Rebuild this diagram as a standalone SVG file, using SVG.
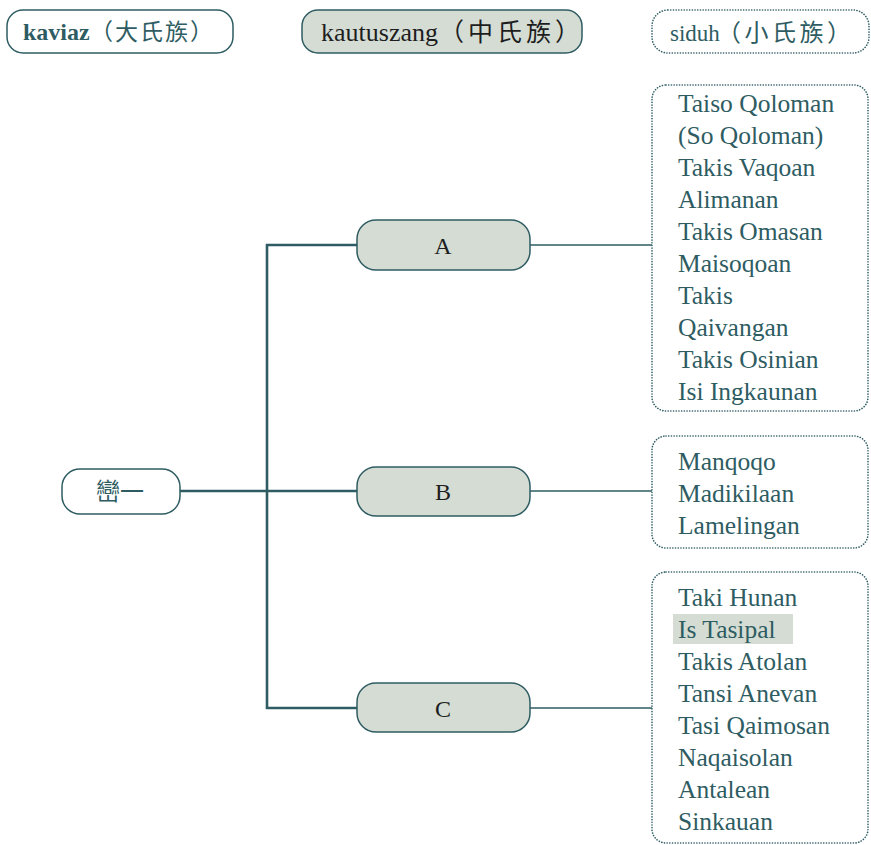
<svg xmlns="http://www.w3.org/2000/svg" width="871" height="845" viewBox="0 0 871 845">
<style>
.t{font-family:"Liberation Serif","Noto Sans CJK TC",serif;fill:#2e5c62;font-size:24px}
.cjk{font-family:"Noto Sans CJK TC","Liberation Serif",serif}
.k{fill:#1e1e1e}
.solid{fill:#fff;stroke:#2e5c62;stroke-width:1.5}
.grey{fill:#d4dcd4;stroke:#2e5c62;stroke-width:1.5}
.dot{fill:#fff;stroke:#2e5c62;stroke-width:1.6;stroke-dasharray:0.1 2.6;stroke-linecap:round}
.list{font-size:25.5px}
.thick{stroke:#2e5c62;stroke-width:2.6;fill:none}
.thin{stroke:#2e5c62;stroke-width:1.4;fill:none}
</style>
<rect width="871" height="845" fill="#fff"/>
<g id="connectors">
<line class="thick" x1="176" y1="491" x2="357" y2="491"/>
<line class="thick" x1="267" y1="244" x2="267" y2="709"/>
<line class="thick" x1="266" y1="245" x2="357" y2="245"/>
<line class="thick" x1="266" y1="708" x2="357" y2="708"/>
<line class="thin" x1="530" y1="245" x2="652" y2="245"/>
<line class="thin" x1="530" y1="491" x2="652" y2="491"/>
<line class="thin" x1="530" y1="708" x2="652" y2="708"/>
</g>
<g id="header-kaviaz">
<rect class="solid" x="7" y="10" width="226" height="43" rx="16"/>
<text class="t" y="40"><tspan x="23" font-weight="bold">kaviaz</tspan><tspan class="cjk" x="90" font-size="23" letter-spacing="2">（大氏族）</tspan></text>
</g>
<g id="header-kautuszang">
<rect class="grey" x="302" y="10" width="280" height="43" rx="16"/>
<text class="t k" y="41"><tspan x="321" font-size="26">kautuszang</tspan><tspan class="cjk" x="439" font-size="25" letter-spacing="4">（中氏族）</tspan></text>
</g>
<g id="header-siduh">
<rect class="dot" x="652" y="10" width="217" height="43" rx="16"/>
<text class="t" y="41"><tspan x="670" font-size="23">siduh</tspan><tspan class="cjk" x="717" font-size="24" letter-spacing="3.5">（小氏族）</tspan></text>
</g>
<g id="root">
<rect class="solid" x="62" y="469" width="118" height="45" rx="18"/>
<text class="t cjk" x="120" y="500" text-anchor="middle" font-size="26">巒一</text>
</g>
<g id="nodeA">
<rect class="grey" x="357" y="220" width="173" height="50" rx="19"/>
<text class="t k" x="443" y="254" text-anchor="middle" font-size="25">A</text>
</g>
<g id="nodeB">
<rect class="grey" x="357" y="467" width="173" height="49" rx="19"/>
<text class="t k" x="443" y="500" text-anchor="middle" font-size="25">B</text>
</g>
<g id="nodeC">
<rect class="grey" x="357" y="683" width="173" height="49" rx="19"/>
<text class="t k" x="443" y="717" text-anchor="middle" font-size="25">C</text>
</g>
<g id="listA">
<rect class="dot" x="652" y="85" width="216" height="326" rx="14"/>
<text class="t list">
<tspan x="678" y="112">Taiso Qoloman</tspan>
<tspan x="678" y="144">(So Qoloman)</tspan>
<tspan x="678" y="176">Takis Vaqoan</tspan>
<tspan x="678" y="208">Alimanan</tspan>
<tspan x="678" y="240">Takis Omasan</tspan>
<tspan x="678" y="272">Maisoqoan</tspan>
<tspan x="678" y="304">Takis</tspan>
<tspan x="678" y="336">Qaivangan</tspan>
<tspan x="678" y="368">Takis Osinian</tspan>
<tspan x="678" y="400">Isi Ingkaunan</tspan>
</text>
</g>
<g id="listB">
<rect class="dot" x="652" y="436" width="216" height="112" rx="14"/>
<text class="t list">
<tspan x="678" y="470">Manqoqo</tspan>
<tspan x="678" y="502">Madikilaan</tspan>
<tspan x="678" y="534">Lamelingan</tspan>
</text>
</g>
<g id="listC">
<rect class="dot" x="652" y="572" width="216" height="271" rx="14"/>
<rect x="673" y="614" width="120" height="30" fill="#d4dcd4"/>
<text class="t list">
<tspan x="678" y="606">Taki Hunan</tspan>
<tspan x="678" y="638">Is Tasipal</tspan>
<tspan x="678" y="670">Takis Atolan</tspan>
<tspan x="678" y="702">Tansi Anevan</tspan>
<tspan x="678" y="734">Tasi Qaimosan</tspan>
<tspan x="678" y="766">Naqaisolan</tspan>
<tspan x="678" y="798">Antalean</tspan>
<tspan x="678" y="830">Sinkauan</tspan>
</text>
</g>
</svg>
